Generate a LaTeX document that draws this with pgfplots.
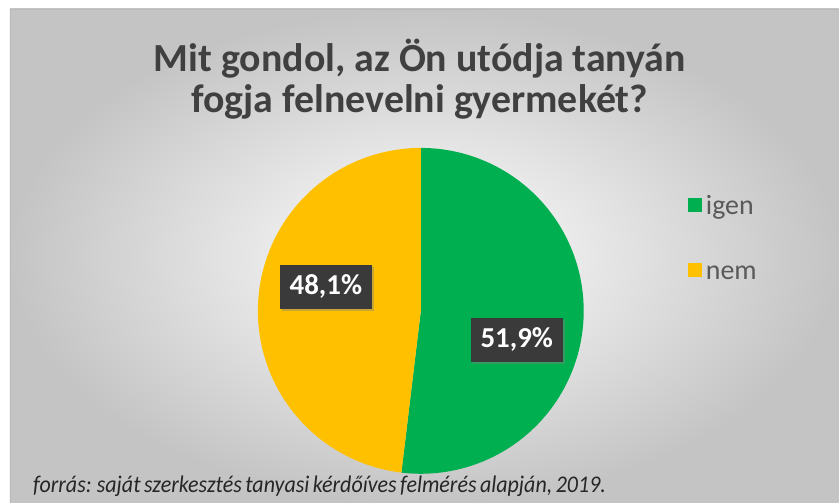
\documentclass[border=0pt]{standalone}
\usepackage{pgfplots}
\pgfplotsset{compat=1.18}
\usepackage{fontspec}
\setmainfont{Carlito}
\newfontfamily\srcfont{Carlito}[FakeStretch=0.92, WordSpace=0.7]
\usetikzlibrary{shadows}
\definecolor{pgreen}{HTML}{00B050}
\definecolor{pyellow}{HTML}{FFC000}
\definecolor{boxgray}{HTML}{3A3A3A}
\definecolor{titlegray}{HTML}{404040}
\definecolor{leggray}{HTML}{595959}
\definecolor{bgouter}{HTML}{C4C4C4}
% data (percent)
\def\igen{51.9}
\def\nem{48.1}
\begin{document}
\begin{tikzpicture}
\fill[white] (0,0) rectangle (839bp,503bp);
\shade[inner color=white, outer color=bgouter] (10bp,0) rectangle (839bp,494bp);
\draw[gray!55, line width=0.8bp] (10bp,0) -- (10bp,494bp) -- (839bp,494bp);
\begin{axis}[
  width=839bp, height=503bp, scale only axis,
  xmin=0, xmax=839, ymin=0, ymax=503,
  hide axis, clip=false,
]
% pie centre (421,192), radius 163
\addplot[draw=none, fill=pgreen, domain=90:90-3.6*\igen, samples=150, variable=\t]
  ({421+163*cos(\t)},{192+163*sin(\t)}) -- (421,192) -- cycle;
\addplot[draw=none, fill=pyellow, domain=90-3.6*\igen:-270, samples=150, variable=\t]
  ({421+163*cos(\t)},{192+163*sin(\t)}) -- (421,192) -- cycle;
% legend
\fill[pgreen] (axis cs:688,291) rectangle (axis cs:702,305);
\node[anchor=base west, inner sep=0pt, text=leggray, font=\fontsize{28}{30}\selectfont]
  at (axis cs:706,288) {igen};
\fill[pyellow] (axis cs:688,226) rectangle (axis cs:702,240);
\node[anchor=base west, inner sep=0pt, text=leggray, font=\fontsize{28}{30}\selectfont]
  at (axis cs:706,223) {nem};
% data labels
\node[fill=boxgray, text=white, font=\fontsize{29}{30}\selectfont\bfseries,
  minimum width=92bp, minimum height=44bp, inner sep=0pt,
  drop shadow={shadow xshift=2bp, shadow yshift=-2bp, opacity=0.4}]
  at (axis cs:326,216) {48,1\%};
\node[fill=boxgray, text=white, font=\fontsize{29}{30}\selectfont\bfseries,
  minimum width=92bp, minimum height=44bp, inner sep=0pt,
  drop shadow={shadow xshift=2bp, shadow yshift=-2bp, opacity=0.4}]
  at (axis cs:517,163) {51,9\%};
% title
\node[font=\fontsize{40}{46}\selectfont\bfseries, text=titlegray, anchor=base, inner sep=0pt]
  at (axis cs:420,431) {Mit gondol, az Ön utódja tanyán};
\node[font=\fontsize{40}{46}\selectfont\bfseries, text=titlegray, anchor=base, inner sep=0pt]
  at (axis cs:420,390) {fogja felnevelni gyermekét?};
% source
\node[font=\srcfont\fontsize{24}{28}\selectfont\itshape, text=black!85, anchor=base west, inner sep=0pt]
  at (axis cs:33,10) {forrás: saját szerkesztés tanyasi kérdőíves felmérés alapján, 2019.};
\end{axis}
\end{tikzpicture}
\end{document}
